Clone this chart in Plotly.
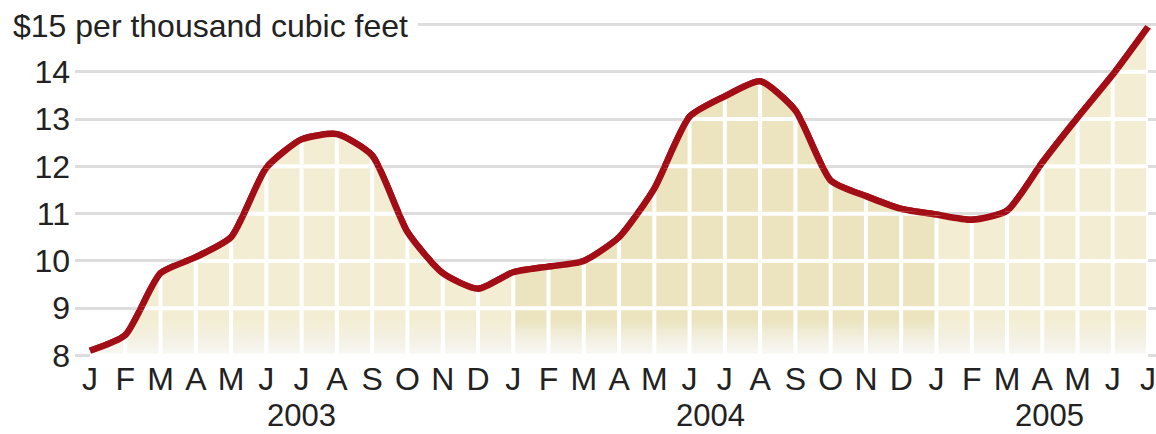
import plotly.graph_objects as go

# ---------------- data ----------------
months = ["J", "F", "M", "A", "M", "J", "J", "A", "S", "O", "N", "D"] * 2 + ["J", "F", "M", "A", "M", "J", "J"]
prices = [8.10, 8.43, 9.74, 10.08, 10.50, 11.97, 12.57, 12.68, 12.23, 10.61,
          9.74, 9.41, 9.76, 9.88, 10.00, 10.50, 11.53, 13.05, 13.48, 13.80,
          13.18, 11.70, 11.37, 11.10, 10.98, 10.87, 11.06, 12.08, 13.03, 13.94,
          14.95]
years = ["2003", "2004", "2005"]
year_label_x = [6.0, 17.6, 27.2]
year_breaks = [0, 12, 24, 30]
y_ticks = [8, 9, 10, 11, 12, 13, 14, 15]
y_ticktext = ["8", "9", "10", "11", "12", "13", "14", ""]
unit_label = "$15 per thousand cubic feet"

# ---------------- style / layout ----------------
W, H = 1156, 434
ML, MR, MT, MB = 75, 0, 20, 71
PW, PH = W - ML - MR, H - MT - MB
X0_PX, DX_PX = 90.0, 35.27      # pixel of first month, pixels per month
Y8_PX, DY_PX = 355.5, 47.29     # pixel of value 8, pixels per unit
xmin = (ML - X0_PX) / DX_PX
xmax = (W - MR - X0_PX) / DX_PX
ymax = 8 + (Y8_PX - MT) / DY_PX
ymin = 8 - (H - MB - Y8_PX) / DY_PX

RED = "#a30d16"
GRID = "#dddddd"
TXT = "#222222"
FONT = "Liberation Sans, Arial, sans-serif"
FS = 32
FS_YEAR = 31
seg_colors = ["#f3eed3", "#ebe4bf", "#f3eed3"]
SMOOTH = 0.6
LW = 6.5

x_idx = list(range(len(prices)))


def px_x(p):
    return (p - ML) / PW


def px_y(p):
    return (H - MB - p) / PH


def grad(c):
    return dict(type="vertical", start=8, stop=9,
                colorscale=[[0, "#f8f8f4"], [0.3, "#f4f1e6"], [0.75, c], [1, c]])


fig = go.Figure()

# main subplot: white fill under curve (hides grey gridlines) + red line
fig.add_trace(go.Scatter(x=x_idx, y=prices, mode="lines", fill="tozeroy", fillcolor="white",
                         line=dict(width=0, shape="spline", smoothing=SMOOTH, simplify=False),
                         hoverinfo="skip"))
fig.add_trace(go.Scatter(x=x_idx, y=prices, mode="lines",
                         line=dict(color=RED, width=LW, shape="spline", smoothing=SMOOTH, simplify=False),
                         hoverinfo="skip"))

# bands between integer levels (gaps leave white lines inside the fill)
g = 2.0 / DY_PX
layout_axes = {}
vx, vy = [], []
for i in x_idx[1:]:
    vx += [i, i, None]
    vy += [8, prices[i], None]

for n, k in enumerate(range(8, 15), start=2):
    lo, hi = k + g, k + 1 - g
    yname = "y%d" % n
    layout_axes["yaxis%d" % n] = dict(domain=[(lo - ymin) / (ymax - ymin), (hi - ymin) / (ymax - ymin)],
                                      range=[lo, hi], visible=False, anchor="x", fixedrange=True)
    for s in range(3):
        a, b = year_breaks[s], year_breaks[s + 1]
        fig.add_trace(go.Scatter(x=x_idx[a:b + 1], y=prices[a:b + 1], yaxis=yname, mode="lines",
                                 fill="tozeroy", fillgradient=grad(seg_colors[s]),
                                 line=dict(width=0, shape="spline", smoothing=SMOOTH, simplify=False),
                                 hoverinfo="skip"))
    fig.add_trace(go.Scatter(x=vx, y=vy, yaxis=yname, mode="lines",
                             line=dict(color="white", width=4), hoverinfo="skip"))
    fig.add_trace(go.Scatter(x=x_idx, y=prices, yaxis=yname, mode="lines",
                             line=dict(color=RED, width=LW, shape="spline", smoothing=SMOOTH, simplify=False),
                             hoverinfo="skip"))

annotations = [dict(text=unit_label, xref="paper", yref="paper", x=px_x(11), y=px_y(26),
                    xanchor="left", yanchor="middle", showarrow=False,
                    font=dict(family=FONT, size=FS, color=TXT))]
for t, xv in zip(years, year_label_x):
    annotations.append(dict(text=t, xref="x", yref="paper", x=xv, y=px_y(416),
                            borderpad=0, xanchor="center", yanchor="middle", showarrow=False,
                            font=dict(family=FONT, size=FS_YEAR, color=TXT)))

fig.update_layout(
    width=W, height=H, margin=dict(l=ML, r=MR, t=MT, b=MB, pad=0),
    paper_bgcolor="white", plot_bgcolor="rgba(0,0,0,0)",
    showlegend=False, hovermode=False,
    xaxis=dict(range=[xmin, xmax], tickvals=x_idx, ticktext=months, tickangle=0,
               showgrid=False, zeroline=False, showline=False, ticks="",
               ticklabeloverflow="allow",
               tickfont=dict(family=FONT, size=FS, color=TXT), ticklabelstandoff=-6, fixedrange=True),
    yaxis=dict(range=[ymin, ymax], tickvals=y_ticks, ticktext=y_ticktext,
               showgrid=True, gridcolor=GRID, gridwidth=3, zeroline=False, showline=False, ticks="",
               tickfont=dict(family=FONT, size=FS, color=TXT), ticklabelstandoff=4, fixedrange=True),
    annotations=annotations,
    shapes=[dict(type="rect", xref="paper", yref="y", x0=px_x(0), x1=px_x(418),
                 y0=15 - 0.08, y1=15 + 0.08, fillcolor="white", line=dict(width=0), layer="above")],
    **layout_axes,
)

fig.write_html("out.html", config={"displayModeBar": False},
               post_script="document.body.style.margin='0';")
